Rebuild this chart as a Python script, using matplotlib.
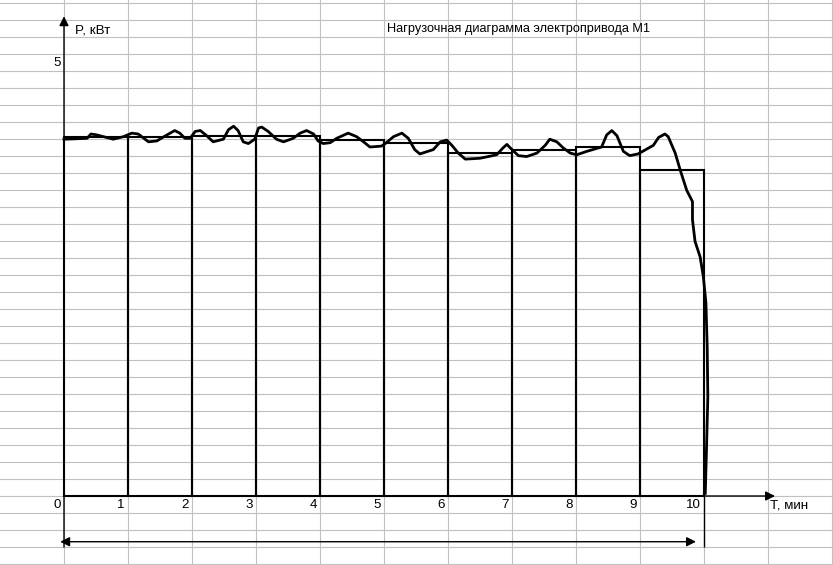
import matplotlib
matplotlib.use("Agg")
import matplotlib.pyplot as plt
import numpy as np

plt.rcParams['font.family'] = ['Liberation Sans', 'DejaVu Sans']

# step levels (average load per minute), kW
minutes = np.arange(10)
step_power = [4.15, 4.15, 4.16, 4.16, 4.11, 4.08, 3.96, 4.00, 4.03, 3.76]

# measured load curve: time (min), power (kW)
curve_t = [0.00, 0.36, 0.42, 0.51, 0.77, 0.93, 1.06, 1.16, 1.32, 1.45, 1.61, 1.73,
           1.81, 1.89, 1.97, 2.05, 2.13, 2.23, 2.33, 2.49, 2.57, 2.65, 2.72, 2.80,
           2.88, 2.98, 3.04, 3.09, 3.19, 3.32, 3.43, 3.58, 3.69, 3.79, 3.90, 3.97,
           4.05, 4.16, 4.26, 4.44, 4.57, 4.68, 4.78, 4.96, 5.02, 5.15, 5.28, 5.38,
           5.48, 5.56, 5.77, 5.88, 5.98, 6.06, 6.16, 6.27, 6.50, 6.76, 6.86, 6.92,
           7.00, 7.10, 7.23, 7.39, 7.52, 7.59, 7.70, 7.80, 7.91, 8.01, 8.17, 8.40,
           8.48, 8.56, 8.64, 8.74, 8.84, 8.97, 9.21, 9.29, 9.39, 9.44, 9.55, 9.63,
           9.73, 9.82, 9.82, 9.86, 9.94, 9.99, 10.03, 10.05, 10.06, 10.04, 10.02]
curve_p = [4.12, 4.13, 4.18, 4.17, 4.12, 4.15, 4.19, 4.18, 4.09, 4.10, 4.17, 4.22,
           4.19, 4.13, 4.13, 4.21, 4.22, 4.16, 4.09, 4.12, 4.23, 4.27, 4.22, 4.09,
           4.07, 4.12, 4.25, 4.26, 4.21, 4.12, 4.09, 4.13, 4.19, 4.22, 4.18, 4.10,
           4.07, 4.08, 4.13, 4.19, 4.15, 4.09, 4.03, 4.04, 4.07, 4.15, 4.19, 4.13,
           4.00, 3.95, 4.00, 4.09, 4.11, 4.05, 3.96, 3.89, 3.90, 3.94, 4.02, 4.06,
           4.00, 3.93, 3.92, 3.96, 4.05, 4.12, 4.09, 4.02, 3.96, 3.94, 3.98, 4.03,
           4.17, 4.22, 4.16, 3.98, 3.93, 3.95, 4.05, 4.14, 4.18, 4.15, 3.96, 3.76,
           3.53, 3.40, 3.19, 2.94, 2.76, 2.53, 2.23, 1.72, 1.15, 0.57, 0.03]

x_ticks = list(range(11))
y_ticks = [5]
title = "Нагрузочная диаграмма электропривода М1"

fig = plt.figure(figsize=(8.33, 5.65), dpi=100)

# spreadsheet-like background grid (pixel units)
bg = fig.add_axes([0, 0, 1, 1])
bg.set_xlim(0, 833)
bg.set_ylim(565, 0)
bg.set_xticks(np.arange(64, 833, 64))
bg.set_yticks(np.arange(3, 565, 17))
bg.grid(True, color='#c0c0c0', linewidth=0.8)
bg.tick_params(length=0, labelbottom=False, labelleft=False)
for s in bg.spines.values():
    s.set_visible(False)

ax = fig.add_axes([0, 0, 1, 1], facecolor='none')
ax.set_xlim(-1, 769 / 64)
ax.set_ylim(-69 / 86.6, 496 / 86.6)
ax.axis('off')

ax.bar(minutes, step_power, width=1, align='edge', fill=False,
       edgecolor='black', linewidth=1.5)
ax.plot(curve_t, curve_p, color='black', linewidth=2.0, solid_joinstyle='round')

arrow = dict(arrowstyle='-|>', color='black', lw=1.0, mutation_scale=14,
             shrinkA=0, shrinkB=0)
ax.annotate('', xy=(11.11, 0), xytext=(0, 0), arrowprops=arrow)
ax.annotate('', xy=(0, 5.54), xytext=(0, -0.59), arrowprops=arrow)
ax.vlines(10, -0.59, 0, color='black', linewidth=1.0)
ax.annotate('', xy=(-0.06, -0.528), xytext=(9.875, -0.528),
            arrowprops=dict(arrowstyle='<|-|>', color='black', lw=1.0,
                            mutation_scale=14, shrinkA=0, shrinkB=0))

for t in x_ticks:
    ax.text(t - 0.05, -0.104, str(t), ha='right', va='center', fontsize=9.6)
for p in y_ticks:
    ax.text(-0.05, p, str(p), ha='right', va='center', fontsize=9.6)

ax.text(0.17, 5.38, "P, кВт", ha='left', va='center', fontsize=9.6)
ax.text(11.03, -0.104, "T, мин", ha='left', va='center', fontsize=9.6)
ax.text(5.05, 5.39, title, ha='left', va='center', fontsize=9.2)

fig.savefig("out.png", dpi=100)
